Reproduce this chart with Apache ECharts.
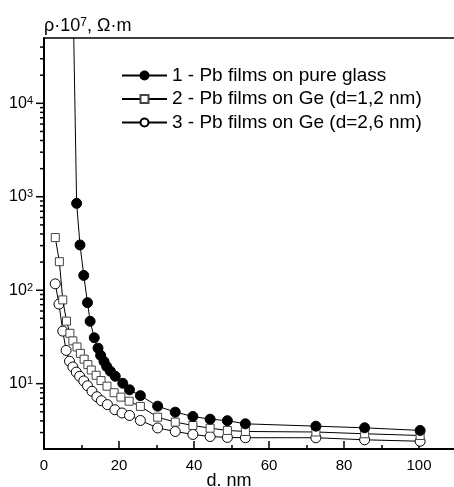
<!DOCTYPE html>
<html><head><meta charset="utf-8">
<script src="https://cdn.jsdelivr.net/npm/echarts@6/dist/echarts.min.js"></script>
<style>html,body{margin:0;padding:0;background:#fff;overflow:hidden}#c{width:454px;height:487px}</style>
</head><body><div id="c"></div>
<script>
// Series 1: Pb films on pure glass
var dFilled = [7.6, 8.7, 9.6, 10.6, 11.6, 12.3, 13.4, 14.4, 15.1, 16.0, 16.7, 17.7, 19.0, 21.0, 22.8, 25.7, 30.3, 35.0, 39.7, 44.3, 48.9, 53.7, 72.5, 85.5, 100.3];
var rhoFilled = [300000, 850, 305, 144, 73.5, 46.5, 31, 24.0, 20.1, 17.3, 15.3, 13.6, 12.0, 10.1, 8.6, 7.45, 5.75, 4.96, 4.46, 4.17, 4.02, 3.72, 3.51, 3.37, 3.16];
// Series 2: Pb films on Ge (d=1,2 nm)
var dSquare = [3.0, 4.1, 5.0, 6.0, 6.9, 7.7, 8.8, 9.7, 10.7, 11.7, 12.6, 13.9, 15.2, 16.8, 18.7, 20.5, 22.7, 25.7, 30.3, 35.0, 39.7, 44.3, 48.9, 53.7, 72.5, 85.5, 100.3];
var rhoSquare = [366, 202, 78.8, 46.7, 34.6, 28.7, 24.7, 21.1, 18.3, 16.0, 14.0, 12.3, 10.8, 9.4, 8.0, 7.18, 6.49, 5.71, 4.38, 3.88, 3.57, 3.34, 3.16, 3.08, 3.04, 2.91, 2.79];
// Series 3: Pb films on Ge (d=2,6 nm)
var dOpen = [3.0, 4.0, 5.0, 5.9, 6.8, 7.7, 8.6, 9.5, 10.6, 11.6, 12.8, 14.1, 15.3, 16.9, 18.9, 20.8, 22.8, 25.7, 30.3, 35.0, 39.7, 44.3, 48.9, 53.7, 72.5, 85.5, 100.3];
var rhoOpen = [117, 71, 36.5, 22.7, 17.4, 15.1, 13.3, 12.0, 10.7, 9.5, 8.3, 7.25, 6.57, 5.97, 5.26, 4.86, 4.57, 4.04, 3.36, 3.08, 2.86, 2.72, 2.66, 2.64, 2.64, 2.51, 2.42];

var seriesNames = ['1 - Pb films on pure glass', '2 - Pb films on Ge (d=1,2 nm)', '3 - Pb films on Ge (d=2,6 nm)'];
var yMajorTicks = [10, 100, 1000, 10000];
var yMinorTicks = [3, 4, 5, 6, 7, 8, 9, 20, 30, 40, 50, 60, 70, 80, 90, 200, 300, 400, 500, 600, 700, 800, 900,
  2000, 3000, 4000, 5000, 6000, 7000, 8000, 9000, 20000, 30000, 40000];
var xMin = 0, xMax = 112, xMajor = 20, xMinor = 10;
var yMin = 2, yMax = 50000;

function zip(a, b) { return a.map(function (v, i) { return [v, b[i]]; }); }
var FONT = 'Liberation Sans';

// y-axis tick marks drawn as small bars placed through the axis scales
function tickMarks(vals, len) {
  return {
    type: 'scatter', silent: true, z: 10, clip: false,
    xAxisIndex: 0, yAxisIndex: 0,
    data: vals.map(function (v) { return [xMin, v]; }),
    symbol: 'rect', symbolSize: [len, 1.5], symbolOffset: [-len / 2, 0],
    itemStyle: { color: '#000', opacity: 1 }
  };
}

var chart = echarts.init(document.getElementById('c'));
chart.setOption({
  animation: false,
  grid: { left: 44, top: 38, width: 420, bottom: 38, outerBoundsMode: 'none' },
  legend: {
    data: seriesNames, orient: 'vertical', left: 116, top: 61,
    itemWidth: 45, itemHeight: 10, itemGap: 4.5,
    textStyle: { fontFamily: FONT, fontSize: 19, color: '#000' }
  },
  xAxis: [{
    type: 'value', min: xMin, max: xMax, interval: xMajor,
    name: 'd. nm', nameLocation: 'middle', nameGap: 23, nameMoveOverlap: false,
    nameTextStyle: { fontFamily: FONT, fontSize: 18, color: '#000', padding: [0, 50, 0, 0] },
    axisLine: { onZero: false, lineStyle: { color: '#000', width: 2 } },
    axisTick: { inside: true, length: 8, lineStyle: { color: '#000', width: 1.5 } },
    axisLabel: { fontFamily: FONT, fontSize: 15, color: '#000', margin: 9, showMaxLabel: false },
    splitLine: { show: false }
  }, {
    type: 'value', min: xMin, max: xMax, interval: xMinor, position: 'bottom',
    axisLine: { show: false, onZero: false },
    axisTick: { inside: true, length: 4, lineStyle: { color: '#000', width: 1.5 } },
    axisLabel: { show: false }, splitLine: { show: false }
  }, {
    type: 'value', min: xMin, max: xMax, position: 'top',
    axisLine: { onZero: false, lineStyle: { color: '#000', width: 1.5 } },
    axisTick: { show: false }, axisLabel: { show: false }, splitLine: { show: false }
  }],
  yAxis: {
    type: 'log', min: yMin, max: yMax, position: 'left',
    name: '{a|ρ·10}{s|7}{a|, Ω·m}', nameLocation: 'end', nameGap: 3, nameMoveOverlap: false,
    nameTextStyle: { align: 'left', verticalAlign: 'bottom',
      rich: { a: { fontFamily: FONT, fontSize: 18, color: '#000' },
              s: { fontFamily: FONT, fontSize: 12, color: '#000', verticalAlign: 'top' } } },
    axisLine: { onZero: false, lineStyle: { color: '#000', width: 2 } },
    axisTick: { show: false },
    splitLine: { show: false },
    axisLabel: {
      margin: 11, showMinLabel: false, showMaxLabel: false,
      formatter: function (v) {
        var e = Math.log10(v), n = Math.round(e);
        if (Math.abs(e - n) > 1e-6) return '';
        return '{b|10}{s|' + n + '}';
      },
      rich: { b: { fontFamily: FONT, fontSize: 16, color: '#000' },
              s: { fontFamily: FONT, fontSize: 11, color: '#000', verticalAlign: 'top' } }
    }
  },
  series: [
    { name: seriesNames[0], type: 'line', data: zip(dFilled, rhoFilled), z: 5,
      symbol: 'circle', symbolSize: 10, lineStyle: { color: '#000', width: 1 },
      itemStyle: { color: '#000', borderColor: '#000', borderWidth: 1 } },
    { name: seriesNames[1], type: 'line', data: zip(dSquare, rhoSquare), z: 4,
      symbol: 'rect', symbolSize: 8, lineStyle: { color: '#000', width: 1 },
      itemStyle: { color: '#fff', borderColor: '#444', borderWidth: 1 } },
    { name: seriesNames[2], type: 'line', data: zip(dOpen, rhoOpen), z: 3,
      symbol: 'circle', symbolSize: 10, lineStyle: { color: '#000', width: 1 },
      itemStyle: { color: '#fff', borderColor: '#000', borderWidth: 1 } },
    tickMarks(yMajorTicks, 8),
    tickMarks(yMinorTicks, 4)
  ]
});
</script></body></html>
